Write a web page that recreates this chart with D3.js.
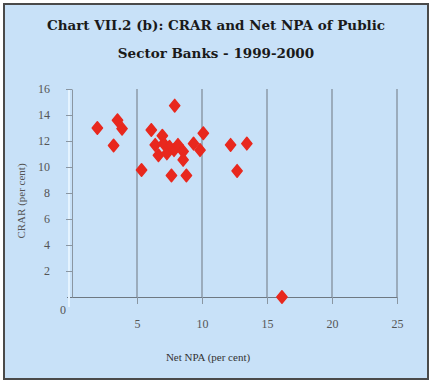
<!DOCTYPE html>
<html>
<head>
<meta charset="utf-8">
<script src="https://cdn.jsdelivr.net/npm/d3@7"></script>
<style>
  html, body { margin: 0; padding: 0; background: #fff; }
  svg { display: block; }
</style>
</head>
<body>
<div id="chart"></div>
<script>
// data: net NPA (x) vs CRAR (y), one point per bank
const netNpa = [1.95, 3.5, 3.85, 3.2, 5.35, 6.1, 6.95, 6.4, 7.05, 6.65, 7.5, 7.3, 7.9, 7.85,
                8.15, 8.55, 8.55, 7.65, 8.8, 9.35, 9.85, 10.1, 12.2, 12.7, 13.45, 16.15];
const crar   = [13.0, 13.6, 12.95, 11.65, 9.77, 12.85, 12.4, 11.7, 11.8, 10.9, 11.55, 11.05, 14.72, 11.3,
                11.7, 11.2, 10.55, 9.35, 9.35, 11.8, 11.3, 12.6, 11.7, 9.7, 11.8, 0.0];
const xTicks = [5, 10, 15, 20, 25];
const yTicks = [0, 2, 4, 6, 8, 10, 12, 14, 16];
const titleLines = ["Chart VII.2 (b): CRAR and Net NPA of Public", "Sector Banks - 1999-2000"];

const W = 432, H = 385;
const svg = d3.select("#chart").append("svg")
    .attr("width", W).attr("height", H);

// frame
svg.append("rect")
    .attr("x", 4).attr("y", 4).attr("width", 424).attr("height", 375)
    .attr("fill", "#c8e1f8").attr("stroke", "#4a4a4a").attr("stroke-width", 2);

// title
svg.append("text")
    .attr("text-anchor", "middle")
    .attr("font-family", "DejaVu Serif").attr("font-weight", "bold")
    .attr("font-size", "13.5px").attr("fill", "#1a1a1a")
    .selectAll("tspan").data(titleLines).enter().append("tspan")
    .attr("x", 216).attr("y", (d, i) => 30 + i * 28)
    .text(d => d);

const x = d3.scaleLinear().domain([0, 25]).range([72, 397]);
const y = d3.scaleLinear().domain([0, 16]).range([297, 89]);

// vertical grid lines
svg.append("g").selectAll("line").data(xTicks).enter().append("line")
    .attr("x1", d => x(d)).attr("x2", d => x(d))
    .attr("y1", y(16)).attr("y2", y(0))
    .attr("stroke", "#7d8894").attr("stroke-width", 1.2);

// x axis
const xAxis = svg.append("g")
    .attr("transform", `translate(0,${y(0)})`)
    .call(d3.axisBottom(x).tickValues(xTicks).tickSize(7).tickPadding(15).tickSizeOuter(0));
xAxis.select(".domain").attr("d", `M67,0.5H${x(25)}`).attr("stroke", "#6e7882");
xAxis.selectAll(".tick line").attr("stroke", "#8a96a2");
xAxis.selectAll("text")
    .attr("font-family", "Liberation Serif").attr("font-size", "12px").attr("fill", "#555");

// y axis
svg.append("line")
    .attr("x1", 69).attr("x2", 69).attr("y1", y(16)).attr("y2", y(0) + 10)
    .attr("stroke", "#e4f3ff").attr("stroke-width", 2);
const yAxis = svg.append("g")
    .attr("transform", `translate(${x(0)},0)`)
    .call(d3.axisLeft(y).tickValues(yTicks).tickSize(6).tickPadding(16).tickSizeOuter(0));
yAxis.select(".domain").attr("stroke", "#8a96a2");
yAxis.selectAll(".tick line").attr("stroke", "#8a96a2");
yAxis.selectAll("text")
    .attr("font-family", "Liberation Serif").attr("font-size", "12px").attr("fill", "#555");
yAxis.selectAll(".tick").filter(d => d === 0).select("line").remove();
yAxis.selectAll(".tick").filter(d => d === 0).select("text")
    .attr("x", -6).attr("dy", "1.35em");

// axis titles
svg.append("text")
    .attr("x", 208).attr("y", 361).attr("text-anchor", "middle")
    .attr("font-family", "Liberation Serif").attr("font-size", "11px").attr("fill", "#333")
    .text("Net NPA (per cent)");
svg.append("text")
    .attr("transform", "translate(25,201) rotate(-90)").attr("text-anchor", "middle")
    .attr("font-family", "Liberation Serif").attr("font-size", "11px").attr("fill", "#555")
    .text("CRAR (per cent)");

// diamond markers
const diamond = {
  draw(ctx, size) {
    const w = Math.sqrt(size) * 0.45, h = Math.sqrt(size) * 0.55;
    ctx.moveTo(0, -h); ctx.lineTo(w, 0); ctx.lineTo(0, h); ctx.lineTo(-w, 0); ctx.closePath();
  }
};
const points = netNpa.map((v, i) => ({ x: v, y: crar[i] }));
svg.append("g").selectAll("path").data(points).enter().append("path")
    .attr("transform", d => `translate(${x(d.x)},${y(d.y)})`)
    .attr("d", d3.symbol().type(diamond).size(130))
    .attr("fill", "#e8281e")
    .attr("stroke", "#e8281e").attr("stroke-width", 1.5).attr("stroke-linejoin", "round");
</script>
</body>
</html>
